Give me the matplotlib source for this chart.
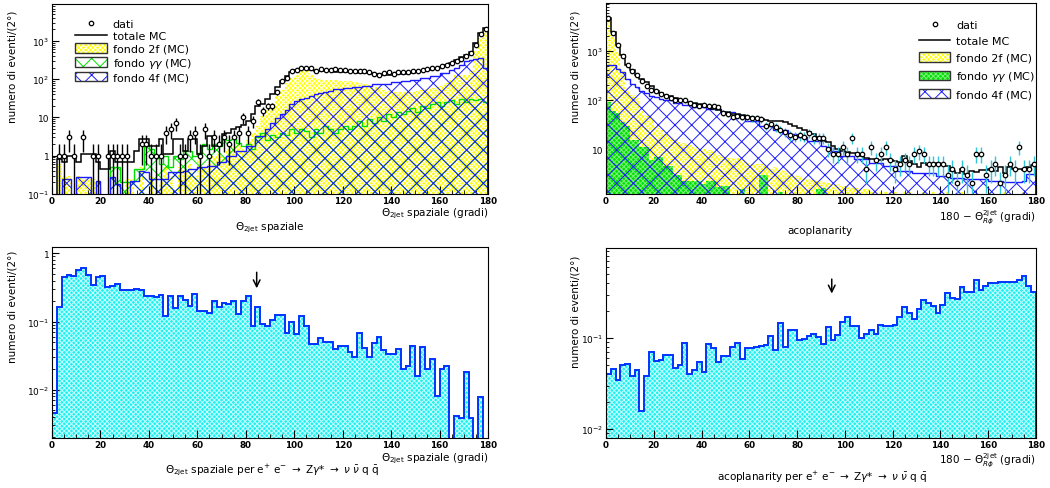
import numpy as np
import matplotlib
matplotlib.use("Agg")
import matplotlib.pyplot as plt
from matplotlib.patches import Patch
from matplotlib.lines import Line2D
from matplotlib.ticker import (MultipleLocator, FixedLocator, FixedFormatter,
                               LogLocator, NullFormatter)

plt.rcParams['font.family'] = ['DejaVu Sans']
plt.rcParams['mathtext.fontset'] = 'dejavusans'
plt.rcParams['hatch.linewidth'] = 0.7

# 90 bins of 2 degrees
edges = np.arange(0, 182, 2)
centers = edges[:-1] + 1

# ---- theta 2jet spaziale (top left) ----
theta_dati = [0, 1, 1, 3, 1, 0, 3, 0, 1, 1,
              0, 1, 1, 1, 1, 1, 0, 0, 2, 2,
              1, 1, 1, 4, 5, 7, 1, 1, 3, 4,
              1, 5, 1, 3, 2, 3, 2, 3, 4, 10,
              4, 8, 25, 15, 20, 20, 45, 90, 110, 160,
              170, 190, 200, 190, 160, 180, 170, 175, 185, 175,
              170, 165, 160, 160, 165, 150, 140, 130, 145, 150,
              140, 150, 155, 150, 160, 165, 170, 180, 190, 200,
              220, 240, 270, 300, 340, 400, 480, 800, 1500, 2000]
theta_tot = [0, 0.8, 0.67, 1.0, 1.0, 0.67, 1.1, 1.1, 1.1, 0.67,
             0.45, 0.45, 1.35, 0.67, 0.67, 0.67, 0.67, 1.35, 2.7, 2.7,
             1.8, 1.8, 2.7, 1.1, 1.1, 2.7, 2.7, 1.35, 2.7, 2.7,
             1.1, 1.8, 3.3, 1.8, 1.8, 3.6, 4.0, 5.0, 5.5, 6.3,
             8, 12, 20, 23, 30, 40, 63, 90, 120, 150,
             170, 180, 180, 170, 165, 162, 160, 160, 158, 156,
             155, 152, 150, 148, 145, 142, 138, 135, 130, 128,
             132, 135, 138, 142, 148, 155, 162, 170, 180, 195,
             210, 240, 270, 320, 380, 430, 500, 900, 1600, 2200]
theta_2f = [0, 0.6, 0.3, 0.3, 0, 0.3, 0.25, 0.25, 0.25, 0,
            0, 0, 0, 0, 0, 0.25, 0.25, 0, 0.5, 0,
            0.3, 0, 0.2, 0.5, 0.3, 0, 0.5, 0.4, 0.6, 0.3,
            0.8, 0.5, 0.6, 1.0, 1.2, 0.9, 1.5, 1.8, 2.0, 1.5,
            2.5, 4, 6, 11, 16, 22, 36, 53, 80, 108,
            130, 160, 160, 130, 110, 100, 98, 96, 95, 92,
            90, 88, 85, 80, 75, 70, 62, 58, 52, 48,
            46, 46, 45, 46, 47, 50, 52, 55, 58, 62,
            65, 80, 95, 130, 130, 130, 160, 550, 1200, 1900]
theta_gg = [0, 0, 0, 0, 0, 0, 0, 0, 0, 0,
            0, 0, 0.5, 0.5, 0.2, 0.2, 0.2, 0.45, 0.45, 1.8,
            1.5, 1.0, 0.6, 1.0, 0.5, 1.0, 0.8, 1.3, 1.3, 1.0,
            1.2, 2.0, 1.5, 2.0, 1.8, 2.7, 2.5, 2.7, 2.2, 1.8,
            2.0, 1.5, 3.0, 4.0, 2.5, 3.5, 3.0, 4.0, 3.5, 5,
            4, 5, 4.5, 3, 5, 4, 6, 5, 4, 5,
            6, 5, 6, 8, 6, 9, 7, 10, 8, 12,
            10, 14, 12, 15, 18, 14, 20, 18, 22, 25,
            20, 25, 28, 22, 30, 25, 30, 28, 30, 25]
theta_4f = [0, 0, 0.25, 0.25, 0, 0.27, 0.27, 0.27, 0, 0.22,
            0, 0, 0.27, 0.18, 0, 0, 0.22, 0.22, 0.4, 0.37,
            0.25, 0.25, 0.25, 0.25, 0.37, 0.37, 0.37, 0.4, 0.45, 0.45,
            0.5, 0.5, 0.55, 0.55, 0.67, 0.67, 1.0, 1.0, 1.35, 1.35,
            1.8, 1.8, 3.3, 3.3, 5, 7.3, 9.9, 12, 16, 22,
            27, 30, 33, 36, 40, 44, 46, 49, 54, 54,
            60, 60, 63, 63, 68, 68, 73, 73, 77, 77,
            83, 83, 89, 89, 98, 98, 108, 108, 124, 124,
            146, 146, 170, 196, 240, 290, 325, 340, 350, 200]

# ---- acoplanarity (top right) ----
acop_dati = [4600, 2350, 1300, 780, 510, 383, 318, 240, 192, 159,
             149, 134, 120, 111, 98, 101, 98, 88, 80, 77,
             80, 77, 75, 72, 55, 52, 45, 47, 45, 44,
             42, 42, 41, 30, 32, 28, 25, 22, 19, 18,
             19, 18, 21, 17, 17, 17, 10, 8, 8, 11,
             8, 17, 8, 8, 4, 11, 6, 8, 11, 6,
             4, 5, 6, 5, 8, 9, 8, 5, 5, 5,
             5, 3, 4, 2, 4, 3, 2, 8, 8, 3,
             4, 5, 2, 3, 5, 4, 11, 4, 4, 5]
acop_tot = [4800, 2450, 1300, 815, 510, 400, 330, 270, 230, 192,
            155, 140, 128, 118, 108, 102, 96, 90, 86, 82,
            78, 72, 66, 62, 58, 56, 53, 51, 49, 47,
            45, 43, 41, 39, 37, 37, 38, 35, 32, 29,
            26.5, 24, 22, 20, 17.3, 14.8, 13.7, 11.7, 10, 9.2,
            8.5, 8.3, 8.3, 7.3, 6.7, 6.4, 6.2, 6.0, 6.2, 6.0,
            5.7, 5.5, 7.3, 5.8, 4.9, 4.2, 5.2, 4.7, 4.9, 5.3,
            4.7, 4.6, 3.6, 3.3, 3.9, 3.1, 3.6, 3.4, 3.8, 3.8,
            3.9, 3.6, 4.2, 3.3, 4.2, 3.9, 4.0, 3.8, 4.2, 4.7]
acop_2f = [4300, 1900, 950, 400, 150, 125, 110, 60, 50, 42,
           30, 25, 20, 18, 16, 14, 13, 12, 11, 10,
           10, 9.5, 9, 7.5, 7, 7, 6.5, 6.5, 6, 5.5,
           5, 5, 5, 4.5, 4, 4.2, 3.8, 3.5, 3.3, 3.0,
           2.8, 2.6, 2.5, 2.3, 2.2, 2.1, 2.0, 1.9, 1.9, 1.8,
           1.7, 1.6, 1.6, 1.5, 1.5, 1.4, 1.4, 1.3, 1.3, 1.3,
           1.3, 1.0, 1.3, 1.3, 1.0, 1.0, 1.3, 1.0, 1.3, 1.0,
           1.0, 1.3, 1.0, 1.0, 1.3, 1.0, 1.0, 1.3, 1.0, 1.0,
           1.3, 1.0, 1.0, 1.3, 1.0, 1.0, 1.0, 1.3, 1.0, 1.0]
acop_gg = [90, 60, 55, 35, 30, 15, 15, 11, 11, 6,
           7, 7, 4.6, 4.6, 2.9, 2.9, 2.2, 2.2, 2.2, 2.2,
           1.9, 2.2, 2.2, 1.7, 1.8, 1.8, 0, 0, 1.5, 0,
           0, 0, 2.9, 2.9, 0, 0, 1.3, 0, 0, 0,
           0, 0, 0, 0, 1.5, 1.6, 0, 0, 0, 0,
           0, 0, 0, 0, 0, 0, 0, 0, 0, 0,
           0, 0, 0, 0, 0, 0, 0, 0, 0, 0,
           0, 0, 0, 0, 0, 0, 0, 0, 0, 0,
           0, 0, 0, 0, 0, 0, 0, 0, 0, 0]
acop_4f = [510, 510, 435, 372, 270, 215, 183, 149, 140, 123,
           114, 106, 98, 98, 88, 88, 80, 80, 71, 71,
           71, 66, 66, 66, 56, 56, 56, 48, 48, 38,
           38, 38, 30, 30, 30, 24, 24, 24, 20, 20,
           17.3, 17.3, 14.8, 14.8, 14.8, 11.7, 10.8, 9.2, 9.2, 7.3,
           7.3, 7.3, 6.2, 6.2, 6.2, 5.3, 5.3, 5.3, 4.6, 4.6,
           4.6, 3.6, 3.6, 3.6, 3.3, 3.3, 3.3, 3.3, 3.3, 2.8,
           2.8, 2.8, 2.6, 2.6, 2.6, 2.4, 2.4, 2.4, 2.4, 2.4,
           2.2, 2.2, 2.2, 2.1, 2.1, 2.1, 2.1, 2.2, 3.1, 3.1]

# ---- signal e+e- -> Z gamma* -> nu nubar q qbar (bottom) ----
theta_sig = [0.0046, 0.163, 0.45, 0.48, 0.47, 0.575, 0.60, 0.48, 0.34, 0.45,
             0.46, 0.32, 0.33, 0.36, 0.29, 0.29, 0.29, 0.30, 0.29, 0.24,
             0.235, 0.226, 0.245, 0.12, 0.24, 0.158, 0.24, 0.21, 0.17, 0.25,
             0.141, 0.145, 0.135, 0.20, 0.163, 0.19, 0.18, 0.20, 0.129, 0.20,
             0.24, 0.087, 0.165, 0.092, 0.085, 0.105, 0.123, 0.123, 0.068, 0.097,
             0.066, 0.12, 0.087, 0.047, 0.047, 0.057, 0.05, 0.05, 0.040, 0.044,
             0.044, 0.036, 0.030, 0.067, 0.041, 0.030, 0.048, 0.060, 0.038, 0.034,
             0.034, 0.040, 0.020, 0.0225, 0.044, 0.016, 0.042, 0.020, 0.028, 0.0081,
             0.020, 0.0225, 0, 0.0041, 0.0039, 0.018, 0.0039, 0, 0.0077, 0]
acop_sig = [0.040, 0.0457, 0.0346, 0.0505, 0.052, 0.0385, 0.045, 0.0158, 0.0385, 0.070,
            0.056, 0.057, 0.065, 0.065, 0.047, 0.050, 0.089, 0.040, 0.044, 0.054,
            0.042, 0.085, 0.077, 0.054, 0.063, 0.064, 0.080, 0.088, 0.059, 0.078,
            0.078, 0.080, 0.081, 0.084, 0.104, 0.073, 0.145, 0.079, 0.123, 0.123,
            0.096, 0.097, 0.106, 0.11, 0.102, 0.085, 0.131, 0.095, 0.108, 0.151,
            0.17, 0.134, 0.134, 0.099, 0.11, 0.123, 0.11, 0.139, 0.134, 0.134,
            0.139, 0.17, 0.221, 0.188, 0.162, 0.21, 0.263, 0.24, 0.227, 0.188,
            0.23, 0.31, 0.273, 0.268, 0.366, 0.32, 0.32, 0.437, 0.34, 0.376,
            0.40, 0.40, 0.41, 0.41, 0.41, 0.41, 0.43, 0.48, 0.376, 0.32]

YELLOW = '#ffff00'
GREEN = '#00e000'
BLUE = '#1a1aff'
CYAN = '#1ef0f0'
DARKBLUE = '#0033ff'
ERRCYAN = '#30c8d8'
FINE = 'xxxxxxx'
TINY = 1e-6

W, H = 1050, 489


def box(x0, y0, x1, y1):
    return [x0 / W, 1 - y1 / H, (x1 - x0) / W, (y1 - y0) / H]


def fig_text(x, y, s, **kw):
    kw.setdefault('fontsize', 7.5)
    kw.setdefault('va', 'center')
    fig.text(x / W, 1 - y / H, s, **kw)


def hist(ax, vals, **kw):
    v = np.asarray(vals, float)
    v = np.where(v > 0, v, TINY)
    return ax.stairs(v, edges, baseline=TINY, **kw)


def textured(ax, vals, face, dots, z):
    hist(ax, vals, fill=True, facecolor=face, edgecolor=dots, hatch=FINE,
         linewidth=0, zorder=z)


def data_points(ax, counts, ecolor):
    n = np.asarray(counts, float)
    m = n > 0
    err = np.sqrt(n[m])
    lo = np.minimum(err, n[m] * 0.9999)
    ax.errorbar(centers[m], n[m], yerr=[lo, err], fmt='o', ms=3.2,
                mfc='white', mec='black', mew=0.9, ecolor=ecolor,
                elinewidth=1.0, capsize=0, zorder=8)


def style(ax, ylim, yticks, ylabels):
    ax.set_xlim(0, 180)
    ax.set_yscale('log')
    ax.set_ylim(*ylim)
    ax.xaxis.set_major_locator(MultipleLocator(20))
    ax.xaxis.set_minor_locator(MultipleLocator(5))
    ax.yaxis.set_major_locator(FixedLocator(yticks))
    ax.yaxis.set_major_formatter(FixedFormatter(ylabels))
    ax.yaxis.set_minor_locator(LogLocator(base=10, subs=np.arange(2, 10), numticks=30))
    ax.yaxis.set_minor_formatter(NullFormatter())
    ax.tick_params(axis='both', which='both', direction='in', top=False, right=False)
    ax.tick_params(axis='x', which='major', length=6, width=0.8, labelsize=6.3, pad=1.2)
    ax.tick_params(axis='x', which='minor', length=3, width=0.6)
    ax.tick_params(axis='y', which='major', length=5, width=0.8, labelsize=6.5, pad=2)
    ax.tick_params(axis='y', which='minor', length=2.5, width=0.6)
    for lab in ax.get_xticklabels():
        lab.set_fontweight('bold')
    for sp in ax.spines.values():
        sp.set_linewidth(0.8)
        sp.set_zorder(10)


def outlined(p):
    return (p, Patch(facecolor='none', edgecolor='#333333', linewidth=1.0))


fig = plt.figure(figsize=(10.5, 4.89), dpi=100)

ax_tl = fig.add_axes(box(52, 5, 488, 195))
ax_tr = fig.add_axes(box(606, 4, 1036, 195))
ax_bl = fig.add_axes(box(52, 248, 488, 439))
ax_br = fig.add_axes(box(606, 249, 1036, 439))

# top left: theta 2jet, data vs MC backgrounds
textured(ax_tl, theta_2f, YELLOW, 'white', 1)
hist(ax_tl, theta_gg, fill=True, facecolor='none', edgecolor=GREEN, hatch='xx',
     linewidth=1.0, zorder=2)
hist(ax_tl, theta_4f, fill=True, facecolor='none', edgecolor=BLUE, hatch='xx',
     linewidth=1.0, zorder=3)
hist(ax_tl, theta_tot, fill=False, edgecolor='black', linewidth=1.1, zorder=5)
data_points(ax_tl, theta_dati, 'black')
style(ax_tl, (0.1, 9200), [0.1, 1, 10, 100, 1000],
      [r'$10^{-1}$', '1', '10', r'$10^{2}$', r'$10^{3}$'])

# top right: acoplanarity, data vs MC backgrounds
textured(ax_tr, acop_2f, YELLOW, 'white', 1)
textured(ax_tr, acop_gg, GREEN, '#7af07a', 2)
hist(ax_tr, acop_4f, fill=True, facecolor='none', edgecolor=BLUE, hatch='xx',
     linewidth=1.0, zorder=3)
hist(ax_tr, acop_tot, fill=False, edgecolor='black', linewidth=1.1, zorder=5)
data_points(ax_tr, acop_dati, ERRCYAN)
style(ax_tr, (1.21, 9500), [10, 100, 1000],
      ['10', r'$10^{2}$', r'$10^{3}$'])

# bottom: expected signal shapes
for ax, sig in ((ax_bl, theta_sig), (ax_br, acop_sig)):
    textured(ax, sig, CYAN, '#c8ffff', 1)
    hist(ax, sig, fill=False, edgecolor=DARKBLUE, linewidth=1.4, zorder=3)
style(ax_bl, (0.00196, 1.24), [0.01, 0.1, 1], [r'$10^{-2}$', r'$10^{-1}$', '1'])
style(ax_br, (0.00796, 0.975), [0.01, 0.1], [r'$10^{-2}$', r'$10^{-1}$'])

# cut positions
arrow = dict(arrowstyle='->', color='black', lw=1.1, mutation_scale=12)
ax_bl.annotate('', xy=(84.5, 0.28), xytext=(84.5, 0.58), arrowprops=arrow)
ax_br.annotate('', xy=(94.5, 0.287), xytext=(94.5, 0.476), arrowprops=arrow)

# legends
h_dati = Line2D([], [], ls='none', marker='o', ms=3.2, mfc='white', mec='black', mew=0.9)
h_tot = Line2D([], [], color='black', lw=1.1)
h_2f = outlined(Patch(facecolor=YELLOW, edgecolor='white', hatch=FINE, linewidth=0))
h_4f = outlined(Patch(facecolor='white', edgecolor=BLUE, hatch='xx', linewidth=0))
labels = ['dati', 'totale MC', 'fondo 2f (MC)', r'fondo $\gamma\gamma$ (MC)', 'fondo 4f (MC)']

h_gg_tl = outlined(Patch(facecolor='white', edgecolor=GREEN, hatch='xx', linewidth=0))
ax_tl.legend([h_dati, h_tot, h_2f, h_gg_tl, h_4f], labels, loc='upper left',
             bbox_to_anchor=(0.035, 0.965), frameon=False, fontsize=8,
             handlelength=2.9, handleheight=0.9, labelspacing=0.18,
             handletextpad=0.5, borderpad=0.2)

h_gg_tr = outlined(Patch(facecolor=GREEN, edgecolor='#7af07a', hatch=FINE, linewidth=0))
ax_tr.legend([h_dati, h_tot, h_2f, h_gg_tr, h_4f], labels, loc='upper left',
             bbox_to_anchor=(0.71, 0.955), frameon=False, fontsize=8,
             handlelength=2.8, handleheight=0.9, labelspacing=0.55,
             handletextpad=0.55, borderpad=0.2)

# axis titles
ylab = 'numero di eventi/(2°)'
fig_text(13, 67, ylab, rotation=90, ha='center')
fig_text(575, 67, ylab, rotation=90, ha='center')
fig_text(13, 307, ylab, rotation=90, ha='center')
fig_text(575, 312, ylab, rotation=90, ha='center')

th_lab = r'$\Theta_{\mathrm{2jet}}$ spaziale (gradi)'
ac_lab = r'180 $-$ $\Theta_{R\phi}^{\mathrm{2jet}}$ (gradi)'
proc = r'e$^{+}$ e$^{-}$ $\rightarrow$ Z$\gamma$* $\rightarrow$ $\nu$ $\bar{\nu}$ q $\bar{\mathrm{q}}$'
fig_text(488, 207, th_lab, ha='right', va='top')
fig_text(270, 228, r'$\Theta_{\mathrm{2jet}}$ spaziale', ha='center')
fig_text(1036, 208, ac_lab, ha='right', va='top')
fig_text(820, 231, 'acoplanarity', ha='center')
fig_text(488, 452, th_lab, ha='right', va='top')
fig_text(272, 470, r'$\Theta_{\mathrm{2jet}}$ spaziale per ' + proc, ha='center')
fig_text(1036, 451, ac_lab, ha='right', va='top')
fig_text(822, 477, 'acoplanarity per ' + proc, ha='center')

fig.savefig('out.png', dpi=100)
